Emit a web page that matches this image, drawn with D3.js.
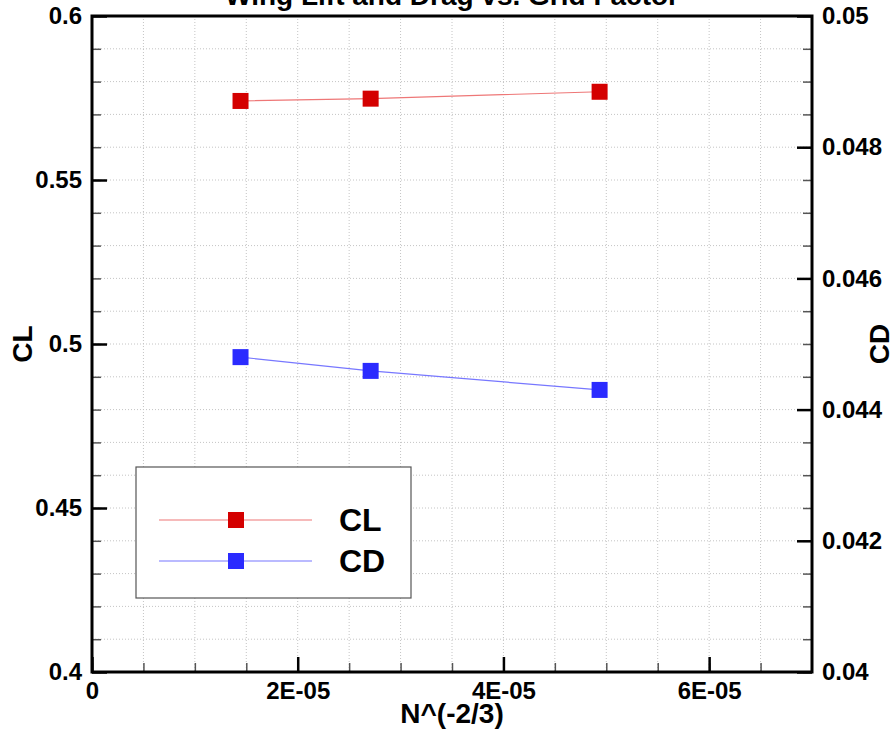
<!DOCTYPE html>
<html>
<head>
<meta charset="utf-8">
<script src="https://cdn.jsdelivr.net/npm/d3@7"></script>
<style>
  body { margin: 0; background: #fff; }
  text { font-family: "Liberation Sans", Arial, sans-serif; font-weight: bold; }
</style>
</head>
<body>
<script>
// grid convergence data: N^(-2/3) vs CL (left axis) and CD (right axis)
var gridFactor = [1.444e-5, 2.709e-5, 4.935e-5];
var clValues = [0.5741, 0.5748, 0.5769];
var cdValues = [0.04480, 0.04459, 0.04430];

var xMajor = [0, 2e-5, 4e-5, 6e-5];
var xLabels = ["0", "2E-05", "4E-05", "6E-05"];
var yLeftMajor = [0.4, 0.45, 0.5, 0.55, 0.6];
var yLeftLabels = ["0.4", "0.45", "0.5", "0.55", "0.6"];
var yRightMajor = [0.04, 0.042, 0.044, 0.046, 0.048, 0.05];
var yRightLabels = ["0.04", "0.042", "0.044", "0.046", "0.048", "0.05"];
var seriesNames = ["CL", "CD"];

var W = 895, H = 738;
// note: "top" is taken by window.top, so prefix these
var pLeft = 92, pRight = 812, pTop = 16, pBottom = 672;

var svg = d3.select("body").append("svg")
    .attr("width", W).attr("height", H);

var x = d3.scaleLinear().domain([0, 7e-5]).range([pLeft, pRight]);
var yL = d3.scaleLinear().domain([0.4, 0.6]).range([pBottom, pTop]);
var yR = d3.scaleLinear().domain([0.04, 0.05]).range([pBottom, pTop]);

var xMinor = d3.range(0, 14).map(function(i) { return i * 0.5e-5; });
var yMinor = d3.range(0, 21).map(function(i) { return 0.4 + i * 0.01; });
var yRMinor = d3.range(0, 21).map(function(i) { return 0.04 + i * 0.0005; });

// dotted grid
var grid = svg.append("g");
grid.selectAll(".vg").data(xMinor.slice(1))
  .enter().append("line")
    .attr("x1", function(d) { return x(d); }).attr("x2", function(d) { return x(d); })
    .attr("y1", pTop).attr("y2", pBottom)
    .attr("stroke", "#c4c4c4").attr("stroke-width", 1).attr("stroke-dasharray", "1,2");
grid.selectAll(".hg").data(yMinor.slice(1, -1))
  .enter().append("line")
    .attr("x1", pLeft).attr("x2", pRight)
    .attr("y1", function(d) { return yL(d); }).attr("y2", function(d) { return yL(d); })
    .attr("stroke", "#c4c4c4").attr("stroke-width", 1).attr("stroke-dasharray", "1,2");

// minor ticks
function minorAxis(axis, transform) {
  var g = svg.append("g").attr("transform", transform).call(axis);
  g.select(".domain").remove();
  g.selectAll(".tick line").attr("stroke", "#555").attr("stroke-width", 1.5);
  g.selectAll("text").remove();
}
minorAxis(d3.axisBottom(x).tickValues(xMinor).tickSize(-9), "translate(0," + pBottom + ")");
minorAxis(d3.axisLeft(yL).tickValues(yMinor).tickSize(-9), "translate(" + pLeft + ",0)");
minorAxis(d3.axisRight(yR).tickValues(yRMinor).tickSize(-9), "translate(" + pRight + ",0)");

// major ticks with labels
function majorAxis(axis, transform) {
  var g = svg.append("g").attr("transform", transform).call(axis);
  g.select(".domain").remove();
  g.selectAll(".tick line").attr("stroke", "#000").attr("stroke-width", 2.5);
  g.selectAll("text").attr("font-size", 24).attr("fill", "#000")
    .style("font-family", "'Liberation Sans', Arial, sans-serif").style("font-weight", "bold");
  return g;
}
majorAxis(d3.axisBottom(x).tickValues(xMajor).tickSize(-15).tickPadding(10)
  .tickFormat(function(d, i) { return xLabels[i]; }), "translate(0," + pBottom + ")");
majorAxis(d3.axisLeft(yL).tickValues(yLeftMajor).tickSize(-15).tickPadding(10)
  .tickFormat(function(d, i) { return yLeftLabels[i]; }), "translate(" + pLeft + ",0)");
majorAxis(d3.axisRight(yR).tickValues(yRightMajor).tickSize(-15).tickPadding(10)
  .tickFormat(function(d, i) { return yRightLabels[i]; }), "translate(" + pRight + ",0)");

// frame
svg.append("rect")
    .attr("x", pLeft).attr("y", pTop)
    .attr("width", pRight - pLeft).attr("height", pBottom - pTop)
    .attr("fill", "none").attr("stroke", "#000").attr("stroke-width", 3);

// series
var series = [
  { name: seriesNames[0], values: clValues, scale: yL, marker: "#d40000", line: "#ee7777" },
  { name: seriesNames[1], values: cdValues, scale: yR, marker: "#2b2bff", line: "#7777ff" }
];
var ms = 16;

series.forEach(function(s) {
  var pts = gridFactor.map(function(g, i) { return [g, s.values[i]]; });
  var line = d3.line()
      .x(function(d) { return x(d[0]); })
      .y(function(d) { return s.scale(d[1]); });
  svg.append("path").datum(pts)
      .attr("d", line).attr("fill", "none")
      .attr("stroke", s.line).attr("stroke-width", 1.2);
  svg.selectAll(null).data(pts)
    .enter().append("rect")
      .attr("x", function(d) { return x(d[0]) - ms / 2; })
      .attr("y", function(d) { return s.scale(d[1]) - ms / 2; })
      .attr("width", ms).attr("height", ms)
      .attr("fill", s.marker);
});

// legend
var leg = svg.append("g");
leg.append("rect")
    .attr("x", 136).attr("y", 467).attr("width", 275).attr("height", 131)
    .attr("fill", "#fff").attr("stroke", "#555").attr("stroke-width", 1.2);
series.forEach(function(s, i) {
  var ly = 520 + i * 41;
  leg.append("line")
      .attr("x1", 159).attr("x2", 312).attr("y1", ly).attr("y2", ly)
      .attr("stroke", s.line).attr("stroke-width", 1.2);
  leg.append("rect")
      .attr("x", 236 - ms / 2).attr("y", ly - ms / 2)
      .attr("width", ms).attr("height", ms).attr("fill", s.marker);
  leg.append("text")
      .attr("x", 339).attr("y", ly + 11)
      .attr("font-size", 32).text(s.name);
});

// titles
svg.append("text")
    .attr("x", (pLeft + pRight) / 2).attr("y", 5)
    .attr("text-anchor", "middle").attr("font-size", 28)
    .text("Wing Lift and Drag vs. Grid Factor");
svg.append("text")
    .attr("x", (pLeft + pRight) / 2).attr("y", 723)
    .attr("text-anchor", "middle").attr("font-size", 28)
    .text("N^(-2/3)");
svg.append("text")
    .attr("transform", "translate(32," + (pTop + pBottom) / 2 + ") rotate(-90)")
    .attr("text-anchor", "middle").attr("font-size", 28)
    .text("CL");
svg.append("text")
    .attr("transform", "translate(889," + (pTop + pBottom) / 2 + ") rotate(-90)")
    .attr("text-anchor", "middle").attr("font-size", 28)
    .text("CD");
</script>
</body>
</html>
